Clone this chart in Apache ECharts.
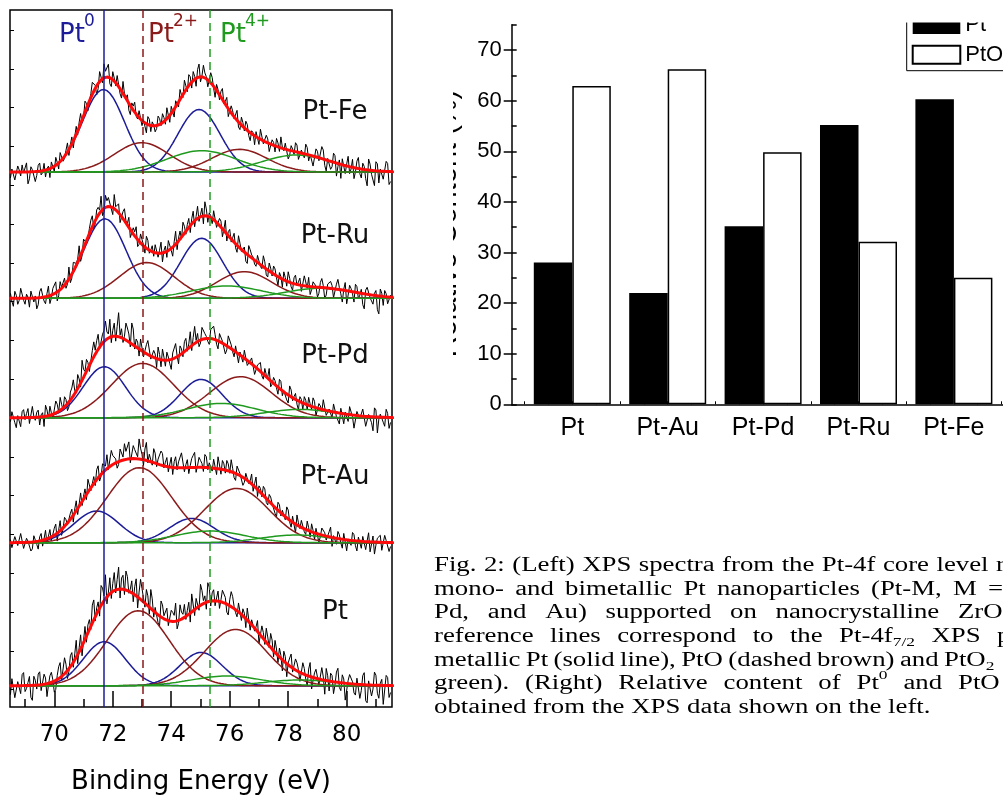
<!DOCTYPE html>
<html><head><meta charset="utf-8">
<script src="https://cdn.jsdelivr.net/npm/echarts@6/dist/echarts.min.js"></script>
<style>html,body{margin:0;padding:0;background:#fff}#c{width:1003px;height:801px}</style>
</head><body><div id="c"></div>
<script>
// ---------------- LEFT: XPS Pt-4f spectra ----------------
const samples = ['Pt-Fe', 'Pt-Ru', 'Pt-Pd', 'Pt-Au', 'Pt'];
const refLabels = ['Pt', 'Pt', 'Pt'];
const refSup = ['0', '2+', '4+'];
const refEnergies = [71.70, 73.02, 75.30];
// fitted components [4f7/2, 4f5/2]: centre (eV), height (a.u.), FWHM (eV)
const pt0Centers = [[71.68, 74.95], [71.73, 75.04], [71.71, 75.02], [71.45, 74.70], [71.71, 75.02]];
const pt0Heights = [[82.5, 62.5], [79.5, 60.0], [51.0, 38.3], [31.7, 24.3], [44.0, 33.3]];
const pt0Fwhm = [1.7, 1.7, 1.7, 1.8, 1.7];
const pt2Centers = [[72.99, 76.33], [73.16, 76.50], [73.02, 76.37], [72.91, 76.24], [72.87, 76.20]];
const pt2Heights = [[29.3, 22.7], [35.7, 26.7], [54.3, 41.0], [75.0, 54.3], [75.0, 56.3]];
const pt2Fwhm = [2.2, 2.2, 2.5, 2.6, 2.5];
const pt4Centers = [[75.04, 78.29], [75.90, 79.09], [75.72, 78.40], [75.33, 78.29], [75.90, 78.40]];
const pt4Heights = [[21.3, 17.0], [12.3, 10.0], [14.3, 8.3], [11.7, 7.7], [9.7, 5.7]];
const pt4Fwhm = [2.8, 2.8, 2.8, 2.8, 2.8];
// measured counts minus fit: "A" sampled every 0.1 eV from 68.50 eV, "B" from 68.55 eV
const energyStart = 68.5, energyStep = 0.1;
const resFe = [-6,4,-9,2,7,-3,-12,5,1,-4, 8,-2,-7,3,6,-5,2,9,-3,4, -6,7,1,-4,10,-2,5,-8,12,3, -5,9,14,4,-6,8,-3,11,-7,2,
  6,-9,4,-2,7,-5,3,8,-6,1, -3,6,9,-4,2,7,-8,5,10,-3, 4,11,-6,3,8,-5,12,2,-4,7, -9,3,6,-2,9,-7,4,1,-5,8,
  -3,6,-8,2,5,-6,9,-2,4,-7, 3,8,-4,1,6,-9,5,-3,7,-5, 2,10,-6,3,-8,6,-2,9,-11,4, -5,7,-3,-14,5,2,-7,8,-4,11, -9,3,-16,6,-2,9,-12,4,-6,8, -10];
const resFeB = [3,-8,6,-4,-1,9,-7,2,-10,6, -4,7,1,-9,4,8,-6,3,-2,9, 2,-7,8,5,-3,11,-6,4,7,-9, 10,-4,6,13,-8,3,9,-5,12,1,
  -7,5,10,-3,8,2,-9,6,4,-6, 9,-2,4,11,-7,3,6,-5,2,12, -4,7,9,-8,13,1,5,-7,10,-2, 6,-5,11,3,-8,7,-2,10,-6,4,
  8,-4,3,-9,6,10,-3,7,-8,5, -6,4,11,-2,8,-5,2,9,-7,3, -4,7,1,-10,8,-3,12,-6,2,-8, 9,-13,4,6,-8,10,-2,-11,7,-5, 6,-9,11,-4,-15,7,2,-8,10,-13];
const resRu = [5,-8,3,-2,9,-6,1,7,-4,-11, 6,2,-7,10,-3,4,-9,8,1,-5, 12,-4,7,3,-6,9,-2,5,11,-3, 8,15,-4,6,10,-7,3,9,-5,12,
  2,-8,6,11,-3,5,-6,9,1,-4, 7,3,-9,6,10,-2,4,-7,8,13, -3,9,5,-6,12,2,-8,7,4,-5, 10,-3,6,1,-7,8,3,-4,11,-2,
  5,-9,7,2,-5,9,-3,6,-7,4, 8,-2,5,-8,3,10,-4,6,-1,7, -6,4,9,-3,7,-10,5,2,-7,6, 3,-8,10,-4,1,-13,6,-2,8,-6, 4,-15,7,-3,-9,5,-18,3,6,-7, 2];
const resRuB = [-3,7,-6,10,-2,4,-9,5,2,-7, 9,-4,3,-8,6,11,-5,1,7,-3, -6,9,2,13,-4,7,-1,10,-5,8, 3,-6,12,9,-2,14,5,-8,7,2,
  10,-5,4,-7,9,1,12,-3,6,8, -4,11,2,-6,8,-9,13,3,-2,7, 5,-7,11,3,-4,8,14,-6,2,9, -5,7,-8,12,4,-3,9,-7,5,1,
  -8,10,3,-4,7,-2,11,-6,8,-3, 6,-9,2,8,-5,4,-7,9,3,-6, 10,-2,-8,5,1,-6,9,-11,4,7, -9,5,2,-12,8,-4,3,-10,6,-2, -11,4,8,-6,2,-14,7,-9,3,-5];
const resPd = [-4,7,-10,3,6,-2,9,-7,1,5, -8,4,11,-3,2,-6,8,13,-2,6, -5,10,3,14,-4,8,12,-6,9,4, 15,-3,11,7,18,6,-5,24,9,3,
  13,-4,16,8,-7,10,2,14,-3,7, -9,5,11,-6,3,-10,6,1,9,-4, 12,4,-5,17,8,-3,11,2,-6,9, 5,-8,7,3,-4,10,-2,6,-9,4,
  8,-5,2,9,-7,5,-3,7,1,-6, 6,-2,9,-5,3,-8,7,2,-4,5, -7,4,8,-3,6,-9,3,10,-5,2, -6,7,-3,5,-10,4,8,-2,-12,6, -4,9,-8,3,-14,7,-2,5,-9,4, -5];
const resPdB = [6,-5,2,-9,8,4,-6,11,-3,7, 2,-10,6,9,-4,12,-1,5,10,-7, 8,16,-2,7,20,3,6,-8,15,11, -2,9,19,4,-6,13,10,2,-4,17,
  8,21,-3,6,11,-5,9,15,-2,4, 12,-7,3,8,-4,6,14,-8,5,10, -2,15,7,2,-6,12,5,-3,9,13, -4,8,2,-9,11,4,-6,7,3,-5,
  10,-3,6,-8,4,9,-5,2,11,-2, 4,-7,8,1,-6,10,-3,6,-9,3, 7,-5,2,9,-8,5,-2,11,-6,3, 8,-4,-11,6,2,-7,10,-13,4,-3, 7,-10,2,-6,9,-16,3,-5,8,-11];
const resAu = [3,-7,5,-2,8,-5,1,-9,6,-3, 4,-6,9,2,-4,7,-8,10,-1,5, -3,8,4,-6,11,3,-5,9,2,-4, 12,-2,7,14,-5,9,4,-3,10,16,
  6,-4,13,8,20,5,11,-2,9,14, -3,7,12,4,-5,10,6,-2,8,13, 3,-6,9,15,2,7,-4,11,5,-3, 8,12,-5,6,10,-2,4,-7,9,3,
  -4,7,2,-6,11,5,-3,8,-5,6, 2,-8,7,4,-3,9,-6,5,10,-2, 6,-5,3,8,-7,4,-2,9,-4,5, -9,3,7,-4,6,-11,2,8,-5,4, -7,5,1,-10,6,-3,4,-8,7,2, -4];
const resAuB = [-5,6,-3,9,-6,4,2,-7,5,-8, 7,1,-5,8,-3,10,2,-6,9,-2, 6,-7,10,2,-4,8,13,-3,7,10, -5,9,4,-2,15,7,-6,12,3,8,
  17,-4,9,2,11,-6,18,7,-3,10, 5,14,-2,9,3,-7,11,6,15,-4, 8,2,12,-5,10,4,13,-2,7,9, -6,4,9,-3,7,12,-5,8,2,-8,
  6,-2,10,3,-7,4,9,-4,7,1, -6,8,-3,5,11,-2,6,-9,3,7, -3,9,-6,2,5,-8,7,3,-5,10, 2,-6,4,-9,8,1,-5,6,-10,3, 5,-8,9,-2,-12,4,7,-6,2,-9];
const resPt = [-9,8,-14,5,11,-6,3,-12,9,-4, 13,-7,6,-2,10,-11,4,15,-5,8, -3,12,6,-9,14,2,-6,10,18,-4, 9,20,5,-7,16,8,-3,22,11,-5,
  14,3,-8,17,6,12,-4,10,19,-6, 7,-10,13,2,-5,11,6,-8,15,4, -3,12,18,-6,9,21,3,-7,14,8, -5,10,2,13,-8,6,11,-3,9,-6,
  4,12,-7,8,3,-10,11,-4,7,14, -6,5,9,-11,6,2,13,-5,8,-9, 11,-4,7,-12,5,10,-7,3,12,-10, 6,-3,14,-8,4,-15,9,2,-11,7, -6,12,-18,5,-4,10,-13,6,-20,8, -7];
const resPtB = [7,-12,4,-8,13,-3,9,-15,5,11, -6,10,-13,7,2,-9,12,-4,16,-8, 11,-5,17,4,-10,13,8,-3,20,6, -8,15,24,3,-6,18,10,-9,14,19,
  -2,12,8,-11,20,4,15,-7,11,5, -8,16,3,12,-6,9,18,-3,7,13, 5,-9,16,10,-4,14,7,19,-5,11, 3,-7,12,6,-10,15,2,-6,10,7,
  -9,13,5,-3,11,-8,6,14,-2,9, 12,-7,3,10,-13,8,-4,11,2,-8, 6,-10,14,-3,9,-6,12,-14,5,8, -12,10,-5,8,-17,3,11,-9,6,-14, 9,-16,4,-11,13,-8,2,-19,10,-12];
const energyTicks = [70, 72, 74, 76, 78, 80];
const energyMinorTicks = [69, 71, 73, 75, 77, 79, 81];

// ---------------- RIGHT: relative content ----------------
const barCategories = ['Pt', 'Pt-Au', 'Pt-Pd', 'Pt-Ru', 'Pt-Fe'];
const seriesNames = ['Pt⁰', 'PtOₓ'];
const pt0Content = [28.0, 22.0, 35.2, 55.2, 60.3];
const ptOxContent = [62.9, 66.2, 49.8, 32.1, 25.0];
const contentTicks = [0, 10, 20, 30, 40, 50, 60, 70];
const contentMinorTicks = [0, 5, 10, 15, 20, 25, 30, 35, 40, 45, 50, 55, 60, 65, 70, 75];

// ---------------- layout / style ----------------
const stackBaselines = [535, 408.7, 289.3, 164.3, 21.3];
const COL = { pt0: '#1c1c98', pt2: '#8b1a1a', pt4: '#1f9a1f', fit: '#ff0a0a' };
const SANS = '"Liberation Sans", Arial, sans-serif';
const DEJA = '"DejaVu Sans", sans-serif';
const SERIF = '"Liberation Serif", "Times New Roman", serif';

function gauss(e, c, h, w) { const s = w / 2.3548; const d = (e - c) / s; return h * Math.exp(-0.5 * d * d); }
function comps(k) {
  return [
    { c: pt0Centers[k][0], h: pt0Heights[k][0], w: pt0Fwhm[k], col: COL.pt0 },
    { c: pt0Centers[k][1], h: pt0Heights[k][1], w: pt0Fwhm[k], col: COL.pt0 },
    { c: pt2Centers[k][0], h: pt2Heights[k][0], w: pt2Fwhm[k], col: COL.pt2 },
    { c: pt2Centers[k][1], h: pt2Heights[k][1], w: pt2Fwhm[k], col: COL.pt2 },
    { c: pt4Centers[k][0], h: pt4Heights[k][0], w: pt4Fwhm[k], col: COL.pt4 },
    { c: pt4Centers[k][1], h: pt4Heights[k][1], w: pt4Fwhm[k], col: COL.pt4 }
  ];
}
const residualsA = [resFe, resRu, resPd, resAu, resPt];
const residualsB = [resFeB, resRuB, resPdB, resAuB, resPtB];
const fine = []; for (let e = 68.45; e <= 81.62; e += 0.05) fine.push(+e.toFixed(3));

const series = [];
samples.forEach((name, k) => {
  const cs = comps(k), base = stackBaselines[k];
  const fitAt = e => cs.reduce((s, p) => s + gauss(e, p.c, p.h, p.w), 0);
  const pts = [];
  residualsA[k].forEach((r, i) => {
    const e = energyStart + i * energyStep;
    pts.push([e, base + fitAt(e) + r]);
    if (i < residualsB[k].length) {
      const e2 = e + energyStep / 2;
      pts.push([e2, base + fitAt(e2) + residualsB[k][i]]);
    }
  });
  series.push({
    type: 'line', xAxisIndex: 0, yAxisIndex: 0, showSymbol: false, silent: true, z: 2,
    lineStyle: { color: '#000', width: 1 }, data: pts
  });
  cs.forEach(p => series.push({
    type: 'line', xAxisIndex: 0, yAxisIndex: 0, showSymbol: false, silent: true, z: 3,
    lineStyle: { color: p.col, width: 1.5 },
    data: fine.map(e => [e, base + gauss(e, p.c, p.h, p.w)])
  }));
  series.push({
    type: 'line', xAxisIndex: 0, yAxisIndex: 0, showSymbol: false, silent: true, z: 4,
    lineStyle: { color: COL.fit, width: 3 },
    data: fine.map(e => [e, base + fitAt(e)])
  });
});
series.push({
  type: 'line', xAxisIndex: 0, yAxisIndex: 0, data: [], z: 6,
  markLine: {
    silent: true, symbol: ['none', 'none'], label: { show: false }, animation: false,
    data: [
      { xAxis: refEnergies[0], lineStyle: { color: COL.pt0, width: 1.5, type: 'solid' } },
      { xAxis: refEnergies[1], lineStyle: { color: COL.pt2, width: 1.5, type: [8, 5] } },
      { xAxis: refEnergies[2], lineStyle: { color: COL.pt4, width: 1.5, type: [8, 5] } }
    ]
  }
});
series.push({
  name: seriesNames[0], type: 'bar', xAxisIndex: 2, yAxisIndex: 1, barWidth: 38.5, barGap: '0%',
  itemStyle: { color: '#000', borderColor: '#000', borderWidth: 0 },
  data: pt0Content.map((v, i) => [i + 1, v])
});
series.push({
  name: seriesNames[1], type: 'bar', xAxisIndex: 2, yAxisIndex: 1, barWidth: 38.5, barGap: '0%',
  itemStyle: { color: '#fff', borderColor: '#000', borderWidth: 1.5 },
  data: ptOxContent.map((v, i) => [i + 1, v])
});

// tick positions
const specTicks = []; for (let k = 0; k < 18; k++) specTicks.push(677 - 38.8 * k);
const barXMin = 0.3648, barXMax = 0.3648 + 491.3 / 95.4;
const quarterTicks = []; for (let v = 0.5; v <= barXMax; v += 0.25) quarterTicks.push(v);

// ---------------- graphic text ----------------
const meas = document.createElement('canvas').getContext('2d');
function tw(str, font) { meas.font = font; return meas.measureText(str).width; }
const graphic = [];
function txt(x, y, text, font, color, align, valign, extra) {
  graphic.push(Object.assign({
    type: 'text', x: x, y: y, silent: true, z: 50,
    style: { text: text, font: font, fill: color, align: align, verticalAlign: valign, textAlign: align, textVerticalAlign: valign }
  }, extra || {}));
}
const refMainX = [59, 148, 220], refSupX = [84, 173, 245];
const refCols = [COL.pt0, COL.pt2, COL.pt4];
refLabels.forEach((t, i) => {
  txt(refMainX[i], 35.5, t, '26px ' + DEJA, refCols[i], 'left', 'middle');
  txt(refSupX[i], 21.5, refSup[i], '17px ' + DEJA, refCols[i], 'left', 'middle');
});
const sampleLabelY = [112, 236, 356, 477, 612];
samples.forEach((s, k) => txt(335, sampleLabelY[k], s, '26px ' + DEJA, '#111', 'center', 'middle'));
txt(462, 223.5, 'Relative Content (%)', '29px ' + SANS, '#000', 'center', 'bottom', { rotation: Math.PI / 2 });
graphic.push({ type: 'rect', z: 100, silent: true, shape: { x: 395, y: 0, width: 58, height: 440 }, style: { fill: '#fff' } });
graphic.push({ type: 'rect', z: 100, silent: true, shape: { x: 453, y: 0, width: 560, height: 22.5 }, style: { fill: '#fff' } });

// caption
const capSize = 20, capSmall = 13, capSX = 1.34, capLeft = 434;
const capF = capSize + 'px ' + SERIF, capSF = capSmall + 'px ' + SERIF;
const captionLines = [
  { y: 566, last: 996, words: ['Fig.', '2:', '(Left)', 'XPS', 'spectra', 'from', 'the', 'Pt-4f', 'core', 'level', 'region'] },
  { y: 589.6, last: 988, words: ['mono-', 'and', 'bimetallic', 'Pt', 'nanoparticles', '(Pt-M,', 'M', '='] },
  { y: 613.2, last: 958, words: ['Pd,', 'and', 'Au)', 'supported', 'on', 'nanocrystalline', { t: 'ZrO', sub: '2' }] },
  { y: 636.8, last: 997, words: ['reference', 'lines', 'correspond', 'to', 'the', { t: 'Pt-4f', sub: '7/2' }, 'XPS', 'peaks'] },
  { y: 660.4, last: 944, words: ['metallic', 'Pt', '(solid', 'line),', 'PtO', '(dashed', 'brown)', 'and', { t: 'PtO', sub: '2' }] },
  { y: 684, last: 958, words: ['green).', '(Right)', 'Relative', 'content', 'of', { t: 'Pt', sup: '0' }, 'and', 'PtO'] },
  { y: 707.6, last: null, words: ['obtained', 'from', 'the', 'XPS', 'data', 'shown', 'on', 'the', 'left.'] }
];
function tokW(tok) {
  if (typeof tok === 'string') return tw(tok, capF) * capSX;
  return (tw(tok.t, capF) + tw(tok.sub || tok.sup, capSF)) * capSX;
}
captionLines.forEach(line => {
  const ws = line.words.map(tokW);
  const n = ws.length;
  let gap = tw(' ', capF) * capSX;
  if (line.last != null) {
    const before = ws.slice(0, n - 1).reduce((a, b) => a + b, 0);
    gap = (line.last - capLeft - before) / (n - 1);
  }
  let x = capLeft;
  line.words.forEach((tok, i) => {
    const t = typeof tok === 'string' ? tok : tok.t;
    txt(x, line.y, t, capF, '#000', 'left', 'middle', { scaleX: capSX });
    if (typeof tok !== 'string') {
      const xs = x + tw(t, capF) * capSX;
      const dy = tok.sub ? 6 : -8;
      txt(xs, line.y + dy, tok.sub || tok.sup, capSF, '#000', 'left', 'middle', { scaleX: capSX });
    }
    x += ws[i] + gap;
  });
});

const chart = echarts.init(document.getElementById('c'), null, { renderer: 'canvas' });
chart.setOption({
  animation: false,
  backgroundColor: '#fff',
  grid: [
    { left: 10, top: 10, width: 382, height: 697, show: true, borderColor: '#000', borderWidth: 1.5, backgroundColor: 'transparent' },
    { left: 511.7, top: 24.8, right: 0, height: 379.5 }
  ],
  xAxis: [
    {
      gridIndex: 0, type: 'value', min: 68.485, max: 81.55, position: 'bottom',
      axisLine: { show: false }, splitLine: { show: false },
      axisTick: { show: true, inside: true, length: 16, customValues: energyTicks, lineStyle: { color: '#000', width: 1.5 } },
      axisLabel: { customValues: energyTicks, fontFamily: DEJA, fontSize: 23, color: '#000', margin: 17 },
      name: 'Binding Energy (eV)', nameLocation: 'middle', nameGap: 62,
      nameTextStyle: { fontFamily: DEJA, fontSize: 26, color: '#000' }
    },
    {
      gridIndex: 0, type: 'value', min: 68.485, max: 81.55, position: 'bottom',
      axisLine: { show: false }, splitLine: { show: false }, axisLabel: { show: false },
      axisTick: { show: true, inside: true, length: 8, customValues: energyMinorTicks, lineStyle: { color: '#000', width: 1.5 } }
    },
    {
      gridIndex: 1, type: 'value', min: barXMin, max: barXMax, position: 'bottom',
      axisLine: { show: true, onZero: false, lineStyle: { color: '#000', width: 1.5 } }, splitLine: { show: false },
      axisTick: { show: true, inside: true, length: 3, customValues: quarterTicks, lineStyle: { color: '#000', width: 1 } },
      axisLabel: { customValues: [1, 2, 3, 4, 5], formatter: v => barCategories[Math.round(v) - 1] || '',
        fontFamily: SANS, fontSize: 25, color: '#000', margin: 11 }
    }
  ],
  yAxis: [
    {
      gridIndex: 0, type: 'value', min: 0, max: 697,
      axisLine: { show: false }, splitLine: { show: false }, axisLabel: { show: false },
      axisTick: { show: true, inside: true, length: 4, customValues: specTicks, lineStyle: { color: '#000', width: 1 } }
    },
    {
      gridIndex: 1, type: 'value', min: 0, max: 75, position: 'left',
      axisLine: { show: true, lineStyle: { color: '#000', width: 1.5 } }, splitLine: { show: false },
      axisTick: { show: true, inside: false, length: 8, customValues: contentTicks, lineStyle: { color: '#000', width: 1.5 } },
      axisLabel: { customValues: contentTicks, fontFamily: SANS, fontSize: 22, color: '#000', margin: 10 }
    },
    {
      gridIndex: 1, type: 'value', min: 0, max: 75, position: 'left',
      axisLine: { show: false }, splitLine: { show: false }, axisLabel: { show: false },
      axisTick: { show: true, inside: true, length: 5, customValues: contentMinorTicks, lineStyle: { color: '#000', width: 1.5 } }
    }
  ],
  legend: {
    orient: 'vertical', left: 906.7, top: 9.1, padding: [5, 60, 5, 5],
    itemWidth: 47.6, itemHeight: 18, itemGap: 7.6, icon: 'rect',
    borderColor: '#000', borderWidth: 1, selectedMode: false,
    textStyle: { fontFamily: SANS, fontSize: 22, color: '#000' },
    data: seriesNames
  },
  series: series,
  graphic: { elements: graphic }
});
</script></body></html>
